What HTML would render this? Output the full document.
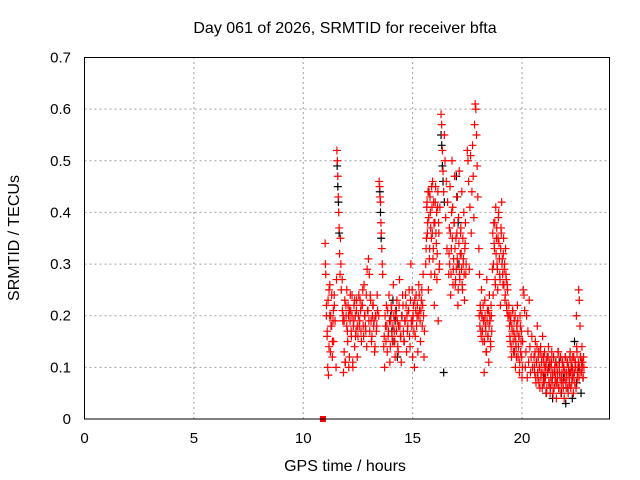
<!DOCTYPE html>
<html><head><meta charset="utf-8"><style>
body{margin:0;background:#fff}
svg{display:block;font-family:"Liberation Sans",sans-serif}
</style></head><body>
<svg id="chart" width="640" height="480" viewBox="0 0 640 480" xmlns="http://www.w3.org/2000/svg">
<rect width="640" height="480" fill="#fff"/>
<text x="345" y="33" font-size="16" text-anchor="middle" fill="#000">Day 061 of 2026, SRMTID for receiver bfta</text>
<g id="grid"></g>
<g id="ticks"></g>
<g id="black"></g>
<g id="red"></g>
<rect x="84.5" y="57.5" width="525" height="361.5" fill="none" stroke="#000" stroke-width="1"/>
<text x="345" y="471" font-size="16" text-anchor="middle">GPS time / hours</text>
<text x="19" y="238" font-size="16" text-anchor="middle" transform="rotate(-90 19 238)">SRMTID / TECUs</text>
</svg>
<script>
const xTicks=[0,5,10,15,20];
const yTicks=[0,0.1,0.2,0.3,0.4,0.5,0.6,0.7];
const yTickLabels=["0","0.1","0.2","0.3","0.4","0.5","0.6","0.7"];
// red series: segments with start hour, sample step, values
const redStart=[11.0,11.5,11.78,12.5,13.45,13.68,15.0,15.6,16.3,16.65,17.5,18.03,18.65,19.4,20.03,20.55];
const redStep=[0.03,0.02,0.03,0.04,0.02,0.04,0.04,0.03,0.03,0.03,0.03,0.03,0.03,0.03,0.03,0.03];
const redValues=[
[.34,.28,.22,.16,.10,.085,.25,.2,.13,.18,.24,.12,.19,.15,.22],
[.10,.27,.52,.50,.47,.43,.40,.37,.32,.28,.35,.30,.25],
[.27,.19,.09,.13,.23,.11,.2,.25,.17,.22,.1,.12,.19,.21,.16,.24,.11,.18,.22,.14,.2,.17,.23,.12],
[.16,.24,.19,.21,.15,.22,.18,.26,.2,.17,.14,.21,.31,.28,.24,.19,.16,.22,.18,.13,.2,.17,.24],
[.2,.46,.45,.43,.42,.38,.36,.33,.30,.28],
[.14,.10,.18,.22,.13,.16,.24,.11,.19,.21,.15,.26,.17,.12,.2,.23,.14,.18,.27,.16,.11,.2,.22,.15,.19,.24,.13,.17,.21,.25,.14,.3,.18,.12],
[.19,.22,.1,.16,.24,.2,.13,.26,.21,.15,.23,.18,.28,.12],
[.30,.35,.42,.38,.25,.44,.33,.40,.28,.45,.36,.31,.42,.22,.38,.45,.34,.27,.41,.19,.36,.30],
[.59,.57,.52,.48,.44,.55,.50,.39,.46,.33,.42],
[.28,.37,.45,.24,.33,.50,.41,.29,.38,.47,.26,.35,.43,.31,.22,.39,.48,.27,.36,.32,.44,.25,.30,.40,.23,.34,.28],
[.52,.50,.46,.29,.41,.51,.36,.44,.53,.47,.39,.57,.61,.60,.55,.49,.43],
[.33,.28,.22,.17,.25,.2,.15,.19,.09,.23,.18,.13,.27,.21,.16,.11,.24,.19,.14,.2],
[.29,.24,.38,.33,.27,.41,.35,.30,.25,.39,.34,.28,.22,.37,.42,.31,.26,.35,.29,.23,.33,.27,.21,.25],
[.22,.18,.15,.2,.12,.17,.21,.13,.19,.16,.1,.14,.18,.22,.12,.16,.09,.2,.13,.17,.08],
[.15,.25,.24,.21,.1,.13,.2,.08,.17,.11,.23,.14,.09,.12,.16,.1],
[.12,.09,.15,.07,.11,.18,.08,.13,.1,.06,.14,.09,.12,.16,.07,.11,.13,.08,.1,.05,.12,.09,.14,.07,.11,.06,.1,.13,.08,.05,.12,.09,.07,.11,.04,.1,.08,.13,.06,.09,.12,.05,.08,.11,.07,.1,.04,.09,.12,.06,.08,.11,.05,.09,.07,.13,.06,.1,.08,.12,.05,.09,.07,.11,.06,.14,.08,.1,.25,.23,.18,.12,.09,.14,.11,.08,.1]
];
// additional red samples (interleaved epochs)
const red2Start=[11.015,11.79,12.52,13.7,15.02,15.615,16.665,18.045,18.665,19.415,20.565];
const red2Step=[0.04,0.04,0.04,0.04,0.04,0.03,0.03,0.03,0.03,0.03,0.03];
const red2Values=[
[.3,.2,.17,.23,.14,.26,.2,.18,.15,.21,.24,.19],
[.21,.2,.19,.11,.22,.18,.15,.2,.21,.24,.17,.2,.1,.19,.23,.16,.21,.18],
[.2,.18,.23,.17,.22,.25,.16,.2,.18,.24,.29,.21,.19,.17,.23,.15,.2,.22,.19,.14,.2,.18,.21],
[.16,.2,.15,.18,.21,.17,.19,.14,.22,.16,.18,.2,.15,.21,.17,.19,.13,.22,.18,.16,.2,.24,.17,.15,.19,.22,.2,.18,.21,.16,.23,.19,.25,.2],
[.2,.17,.23,.21,.18,.22,.2,.24,.19,.21,.25,.22,.2,.17],
[.33,.41,.36,.44,.39,.31,.43,.37,.35,.41,.46,.33,.38,.28,.42,.36,.4,.32,.44,.38,.29,.41],
[.32,.3,.36,.28,.4,.35,.26,.31,.38,.33,.27,.29,.36,.3,.25,.34,.28,.32,.37,.29,.26,.35,.31,.28,.33,.38,.3],
[.2,.18,.21,.16,.2,.17,.22,.19,.15,.2,.17,.13,.19,.16,.21,.18,.2,.15,.22,.17],
[.36,.3,.34,.38,.26,.32,.37,.29,.35,.4,.31,.27,.33,.36,.3,.28,.32,.26,.3,.24,.28,.22,.26,.2],
[.2,.16,.19,.14,.18,.21,.15,.17,.13,.2,.15,.12,.17,.19,.14,.16,.11,.18,.15,.12,.1],
[.1,.13,.08,.11,.14,.09,.12,.07,.1,.13,.08,.11,.06,.09,.12,.07,.1,.08,.11,.06,.09,.12,.07,.1,.05,.08,.11,.07,.09,.12,.06,.1,.08,.11,.07,.09,.13,.06,.1,.08,.12,.07,.09,.11,.06,.1,.08,.12,.07,.09,.11,.06,.1,.08,.12,.09,.11,.07,.1,.08,.12,.09,.11,.1,.2,.13,.09,.11,.08,.1,.12,.09,.11,.1,.08,.12]
];
const blackStart=[11.55,13.5,16.3,17.0,14.0,21.0];
const blackStep=[0.03,0.03,0.03,0.04,0.05,0.1];
const blackValues=[
[.49,.45,.42,.36],
[.44,.40,.35],
[.55,.53,.49,.46,.09,.42],
[.47,.43,.38,.3],
[.2,.17,.23,.15,.19,.21,.12],
[.08,.05,.1,.06,.04,.09,.07,.11,.05,.08,.03,.06,.09,.04,.15,.07,.1,.05]
];
const zeroMarkers=[[10.9,0]];

const X0=84.5,X1=609.5,Y0=419,Y1=57.5,XMAX=24,YMAX=0.7;
const sx=h=>X0+(h/XMAX)*(X1-X0);
const sy=v=>Y0-(v/YMAX)*(Y0-Y1);
const NS="http://www.w3.org/2000/svg";
function mk(tag,attrs,parent){const e=document.createElementNS(NS,tag);for(const k in attrs)e.setAttribute(k,attrs[k]);parent.appendChild(e);return e;}
const grid=document.getElementById('grid'),ticks=document.getElementById('ticks');
xTicks.forEach(t=>{
  if(t>0){const l=mk('line',{x1:sx(t),x2:sx(t),y1:Y0,y2:Y1,stroke:'#a0a0a0','stroke-dasharray':'2,3'},grid);
  
  }
  const tx=mk('text',{x:sx(t),y:443,'font-size':15,'text-anchor':'middle'},ticks);tx.textContent=t;
  
  
});
yTicks.forEach((t,i)=>{
  if(t>0&&t<YMAX){const l=mk('line',{x1:X0,x2:X1,y1:sy(t),y2:sy(t),stroke:'#a0a0a0','stroke-dasharray':'2,3'},grid);
  
  }
  const tx=mk('text',{x:71,y:sy(t)+5,'font-size':15,'text-anchor':'end'},ticks);tx.textContent=yTickLabels[i];
  
  
});
function plus(h,v,col,g){
  const x=sx(h),y=sy(v);
  const p=mk('path',{d:`M${x-4} ${y}H${x+4}M${x} ${y-4}V${y+4}`,stroke:col,'stroke-width':1.2,fill:'none'},g);
  
  
}
function draw(starts,steps,vals,col,g){
  vals.forEach((arr,s)=>arr.forEach((v,i)=>plus(starts[s]+i*steps[s],v,col,g)));
}
draw(blackStart,blackStep,blackValues,'#000',document.getElementById('black'));
draw(redStart,redStep,redValues,'#f00',document.getElementById('red'));
draw(red2Start,red2Step,red2Values,'#f00',document.getElementById('red'));
zeroMarkers.forEach(([h,v])=>{
  const r=mk('rect',{x:sx(h)-3,y:sy(v)-3,width:6,height:6,fill:'#f00'},document.getElementById('red'));
  
  
});
</script>
</body></html>
